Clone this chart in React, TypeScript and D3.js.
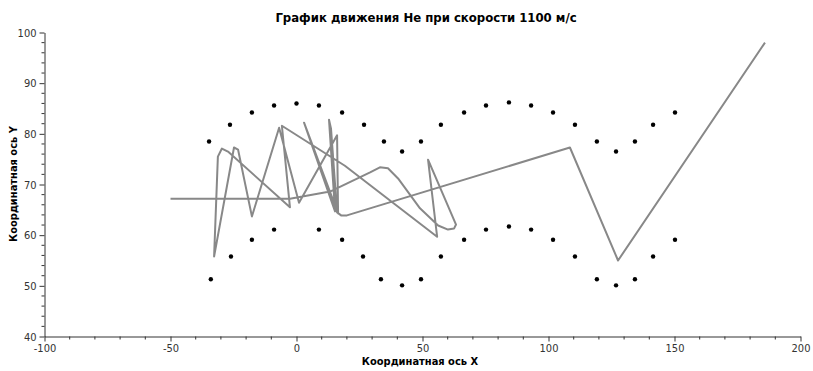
import React, { useEffect, useRef } from "react";
import * as d3 from "d3";

// trajectory of the particle (x, y)
const pathX = [-50, -2.6, 13.3, 29.2, 33.1, 36.3, 40.3, 49.0, 56.2, 60.1, 62.5, 63.3, 52.2, 55.8, 19.2, -5.8, -2.6, -27.2, -29.6, -31.2, -32.7, -24.8, -23.2, -17.7, -6.9, 1.0, 16.1, 16.5, 3.0, 15.3, 12.9, 13.7, 16.1, 17.7, 20.0, 108.5, 127.6, 185.9];
const pathY = [67.2, 67.2, 68.6, 72.4, 73.4, 73.2, 71.2, 65.3, 61.9, 61.1, 61.3, 62.1, 74.9, 59.7, 73.7, 81.6, 65.5, 76.5, 77.1, 75.5, 55.8, 77.3, 76.9, 63.7, 81.2, 66.4, 79.7, 64.3, 82.2, 64.7, 82.8, 81.0, 64.5, 63.9, 63.9, 77.3, 55.0, 98.0];

// upper boundary points
const upperX = [-34.7, -26.4, -17.7, -8.9, 0, 8.9, 18.1, 26.8, 34.7, 41.9, 49.4, 57.3, 66.5, 75.2, 84.3, 93.1, 101.8, 110.5, 119.2, 126.8, 134.3, 141.5, 150.2];
const upperY = [78.5, 81.8, 84.2, 85.6, 86.0, 85.6, 84.2, 81.8, 78.5, 76.5, 78.5, 81.8, 84.2, 85.6, 86.2, 85.6, 84.2, 81.8, 78.5, 76.5, 78.5, 81.8, 84.2];

// lower boundary points
const lowerX = [-34.0, -26.0, -17.7, -8.9, 8.9, 18.1, 26.4, 33.5, 41.9, 49.4, 57.3, 66.5, 75.2, 84.3, 93.1, 101.8, 110.5, 119.2, 126.8, 134.3, 141.5, 150.2];
const lowerY = [51.3, 55.8, 59.1, 61.1, 61.1, 59.1, 55.8, 51.3, 50.1, 51.3, 55.8, 59.1, 61.1, 61.7, 61.1, 59.1, 55.8, 51.3, 50.1, 51.3, 55.8, 59.1];

const xTicks = [-100, -50, 0, 50, 100, 150, 200];
const yTicks = [40, 50, 60, 70, 80, 90, 100];

const title = "График движения He при скорости 1100 м/с";
const xTitle = "Координатная ось X";
const yTitle = "Координатная ось Y";

const W = 813;
const H = 371;

const App: React.FC = () => {
  const svgRef = useRef<SVGSVGElement>(null);

  useEffect(() => {
    const svg = d3.select(svgRef.current);
    svg.selectAll("*").remove();

    const x = d3.scaleLinear().domain([-100, 200]).range([44.5, 800.5]);
    const y = d3.scaleLinear().domain([40, 100]).range([336.5, 32.5]);

    const font = "DejaVu Sans Condensed, DejaVu Sans, sans-serif";

    // minor ticks
    const xMinor = d3.range(-100, 201, 10).filter((v) => !xTicks.includes(v));
    const yMinor = d3.range(40, 101, 2).filter((v) => !yTicks.includes(v));

    const gx = svg.append("g").attr("transform", `translate(0,${y(40)})`);
    gx.call(
      d3
        .axisBottom(x)
        .tickValues(xTicks)
        .tickFormat((d) => String(d))
        .tickSize(5)
        .tickSizeOuter(0) as any,
    );
    gx.selectAll("line.minor")
      .data(xMinor)
      .join("line")
      .attr("class", "minor")
      .attr("x1", (d) => x(d))
      .attr("x2", (d) => x(d))
      .attr("y1", 0)
      .attr("y2", 3)
      .attr("stroke", "#333");

    const gy = svg.append("g").attr("transform", `translate(${x(-100)},0)`);
    gy.call(
      d3
        .axisLeft(y)
        .tickValues(yTicks)
        .tickFormat((d) => String(d))
        .tickSize(5)
        .tickSizeOuter(0) as any,
    );
    gy.selectAll("line.minor")
      .data(yMinor)
      .join("line")
      .attr("class", "minor")
      .attr("y1", (d) => y(d))
      .attr("y2", (d) => y(d))
      .attr("x1", 0)
      .attr("x2", -3)
      .attr("stroke", "#333");

    svg.selectAll(".domain").attr("stroke", "#333");
    svg.selectAll(".tick line").attr("stroke", "#333");
    svg
      .selectAll(".tick text")
      .attr("font-family", font)
      .attr("font-size", 11)
      .attr("fill", "#333");

    // the points
    svg
      .append("g")
      .selectAll("circle")
      .data(upperX.map((v, i) => [v, upperY[i]]))
      .join("circle")
      .attr("cx", (d) => x(d[0]))
      .attr("cy", (d) => y(d[1]))
      .attr("r", 2.2)
      .attr("fill", "#000");
    svg
      .append("g")
      .selectAll("circle")
      .data(lowerX.map((v, i) => [v, lowerY[i]]))
      .join("circle")
      .attr("cx", (d) => x(d[0]))
      .attr("cy", (d) => y(d[1]))
      .attr("r", 2.2)
      .attr("fill", "#000");

    const line = d3
      .line<number>()
      .x((d, i) => x(pathX[i]))
      .y((d, i) => y(pathY[i]));

    svg
      .append("path")
      .datum(pathX)
      .attr("d", line)
      .attr("fill", "none")
      .attr("stroke", "#888")
      .attr("stroke-width", 2)
      .attr("stroke-linejoin", "round");

    svg
      .append("text")
      .attr("x", 426)
      .attr("y", 22)
      .attr("text-anchor", "middle")
      .attr("font-family", font)
      .attr("font-weight", "bold")
      .attr("font-size", 13)
      .text(title);

    svg
      .append("text")
      .attr("x", 420)
      .attr("y", 365)
      .attr("text-anchor", "middle")
      .attr("font-family", font)
      .attr("font-weight", "bold")
      .attr("font-size", 11)
      .text(xTitle);

    svg
      .append("text")
      .attr("transform", `translate(17,184) rotate(-90)`)
      .attr("text-anchor", "middle")
      .attr("font-family", font)
      .attr("font-weight", "bold")
      .attr("font-size", 11)
      .text(yTitle);
  }, []);

  return (
    <div style={{ position: "absolute", left: 0, top: 0, width: W, height: H }}>
      <svg ref={svgRef} width={W} height={H} style={{ display: "block", background: "#fff" }} />
    </div>
  );
};

export default App;
